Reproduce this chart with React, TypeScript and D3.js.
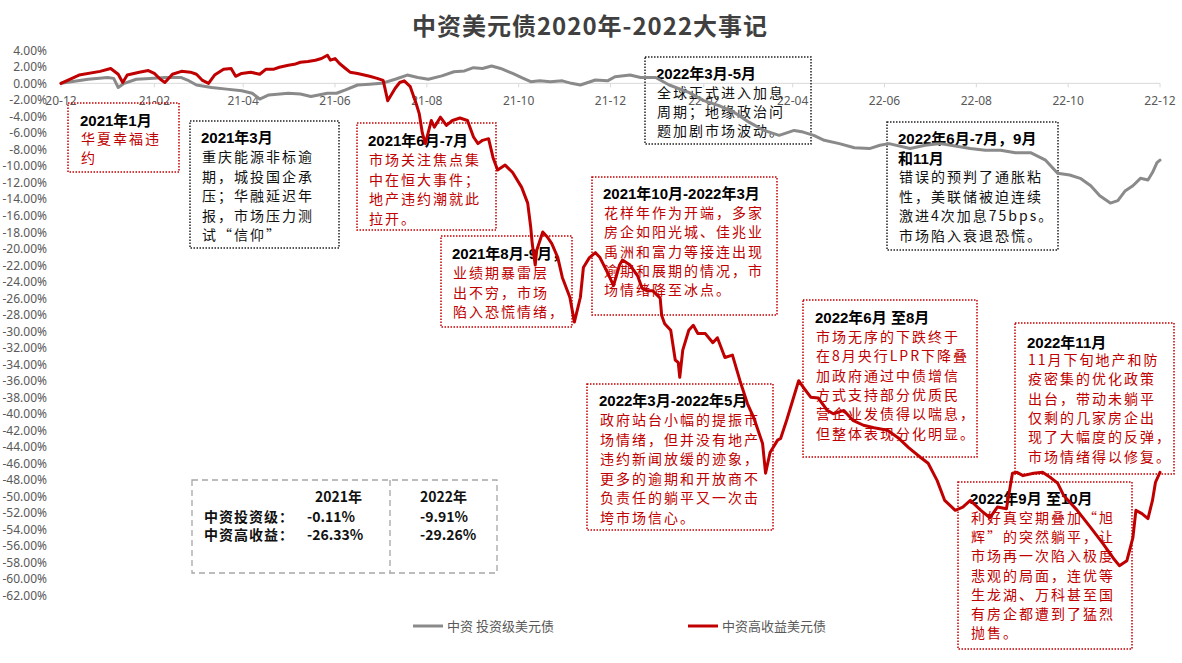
import React from 'react';
import * as d3 from 'd3';

const W = 1182;
const H = 663;

// ---- data (cumulative return, %) ----
const igDates = [
  '2020-12-01','2020-12-19','2021-01-01','2021-01-05','2021-01-08','2021-01-12','2021-01-20','2021-01-29',
  '2021-02-08','2021-02-19','2021-02-23','2021-03-01','2021-03-11','2021-03-21','2021-03-31','2021-04-07',
  '2021-04-12','2021-04-18','2021-05-01','2021-05-09','2021-05-16','2021-05-27','2021-06-02','2021-06-08',
  '2021-06-16','2021-06-24','2021-07-02','2021-07-11','2021-07-19','2021-07-26','2021-08-02','2021-08-11',
  '2021-08-19','2021-08-26','2021-09-01','2021-09-07','2021-09-13','2021-09-19','2021-09-27','2021-10-03',
  '2021-10-09','2021-10-15','2021-10-22','2021-10-30','2021-11-05','2021-11-11','2021-11-16','2021-11-21',
  '2021-11-29','2021-12-04','2021-12-14','2021-12-21','2021-12-31','2022-01-09','2022-01-22','2022-02-01',
  '2022-02-11','2022-02-21','2022-03-03','2022-03-13','2022-03-23','2022-04-02','2022-04-08','2022-04-15',
  '2022-04-22','2022-05-02','2022-05-12','2022-05-22','2022-05-29','2022-06-04','2022-06-18','2022-06-28',
  '2022-07-08','2022-07-18','2022-07-28','2022-08-07','2022-08-17','2022-08-27','2022-09-06','2022-09-16',
  '2022-09-24','2022-10-02','2022-10-09','2022-10-16','2022-10-22','2022-10-29','2022-11-03','2022-11-08',
  '2022-11-13','2022-11-18','2022-11-23','2022-11-26','2022-11-29','2022-12-01'
];
const igValues = [
  0, 0.5, 0.7, 0.6, -0.5, 0.0, 0.5, 0.6,
  0.7, 0.7, 0.4, -0.2, -0.5, -0.7, -0.9, -1.2,
  -1.9, -1.4, -1.2, -1.3, -1.6, -1.2, -1.2, -0.8,
  -0.2, -0.1, 0.0, 0.5, 1.0, 0.7, 0.5, 0.9,
  1.4, 1.5, 1.9, 1.8, 2.1, 1.8, 1.2, 0.7,
  0.2, 0.3, 0.2, 0.3, 0.0, -0.2, 0.1, 0.4,
  0.3, 0.8, 1.0, 0.7, 0.7, -0.2, -1.1, -2.1,
  -2.7, -3.5, -4.7, -5.7, -6.3, -5.7, -5.9, -6.3,
  -6.9, -7.3, -7.8, -7.9, -7.5, -7.3, -7.9, -7.5,
  -7.3, -7.6, -7.9, -8.1, -8.1, -8.4, -8.4, -9.3,
  -10.9, -11.1, -11.5, -12.4, -13.6, -14.5, -14.2, -13.0,
  -12.4, -11.5, -11.7, -10.8, -9.6, -9.3
];

const hyDates = [
  '2020-12-01','2020-12-13','2020-12-27','2021-01-03','2021-01-08','2021-01-11','2021-01-14','2021-01-22',
  '2021-01-28','2021-02-01','2021-02-05','2021-02-08','2021-02-13','2021-02-19','2021-02-25','2021-03-01',
  '2021-03-05','2021-03-09','2021-03-13','2021-03-19','2021-03-24','2021-03-27','2021-03-31','2021-04-06',
  '2021-04-12','2021-04-16','2021-04-21','2021-04-25','2021-05-01','2021-05-05','2021-05-09','2021-05-14',
  '2021-05-19','2021-05-23','2021-05-27','2021-05-29','2021-06-01','2021-06-04','2021-06-08','2021-06-11',
  '2021-06-16','2021-06-24','2021-06-29','2021-07-03','2021-07-06','2021-07-11','2021-07-14','2021-07-17',
  '2021-07-21','2021-07-25','2021-07-27','2021-07-29','2021-07-31','2021-08-02','2021-08-04','2021-08-06',
  '2021-08-10','2021-08-14','2021-08-18','2021-08-23','2021-08-28','2021-09-01','2021-09-04','2021-09-07',
  '2021-09-11','2021-09-14','2021-09-17','2021-09-22','2021-09-27','2021-10-03','2021-10-07','2021-10-09',
  '2021-10-10','2021-10-12','2021-10-13','2021-10-17','2021-10-20','2021-10-23','2021-10-27','2021-10-30',
  '2021-11-04','2021-11-07','2021-11-11','2021-11-13','2021-11-17','2021-11-21','2021-11-24','2021-11-29',
  '2021-12-03','2021-12-07','2021-12-09','2021-12-14','2021-12-19','2021-12-22','2021-12-25','2021-12-29',
  '2022-01-03','2022-01-04','2022-01-06','2022-01-10','2022-01-13','2022-01-15','2022-01-16','2022-01-18',
  '2022-01-22','2022-01-25','2022-01-28','2022-02-02','2022-02-07','2022-02-10','2022-02-15','2022-02-20',
  '2022-02-25','2022-03-02','2022-03-06','2022-03-12','2022-03-14','2022-03-17','2022-03-22','2022-03-24',
  '2022-03-28','2022-04-01','2022-04-05','2022-04-08','2022-04-13','2022-04-18','2022-04-24','2022-04-28',
  '2022-05-05','2022-05-11','2022-05-18','2022-05-25','2022-06-03','2022-06-10','2022-06-17','2022-06-25',
  '2022-06-30','2022-07-06','2022-07-11','2022-07-18','2022-07-23','2022-07-28','2022-08-04','2022-08-10',
  '2022-08-15','2022-08-21','2022-08-25','2022-08-28','2022-09-01','2022-09-08','2022-09-14','2022-09-19',
  '2022-09-24','2022-09-28','2022-10-07','2022-10-16','2022-10-24','2022-10-31','2022-11-04','2022-11-09',
  '2022-11-13','2022-11-15','2022-11-19','2022-11-23','2022-11-26','2022-11-28','2022-12-01'
];
const hyValues = [
  0, 1.0, 1.45, 1.8, 1.1, 0.1, 1.0, 1.35,
  1.55, 1.2, 0.5, 0.1, 1.1, 1.45, 1.35, 1.1,
  0.35, 0.0, 1.0, 1.7, 1.8, 0.85, 1.2, 1.35,
  1.1, 1.7, 1.7, 1.95, 2.2, 2.3, 2.55, 2.65,
  2.8, 3.0, 3.4, 2.8, 3.0, 2.4, 1.8, 1.35,
  1.2, 0.85, 0.6, 0.35, -2.1, -0.6, 0.1, 0.3,
  -0.4, -2.5, -3.7, -6.0, -7.3, -5.9, -4.5, -5.3,
  -4.1, -5.1, -4.5, -4.2, -4.5, -6.5, -7.3, -6.9,
  -6.7, -9.0, -10.5, -9.9, -10.8, -12.6, -14.5, -17.4,
  -19.4, -22.0, -20.2, -18.0, -18.6, -19.4, -21.1, -23.5,
  -25.9, -28.9, -25.9, -22.3, -21.1, -20.5, -21.1, -22.9,
  -24.5, -22.0, -21.4, -22.0, -23.3, -24.8, -25.1, -25.1,
  -26.0, -28.1, -29.1, -29.9, -33.5, -33.8, -35.6, -32.3,
  -29.9, -29.3, -30.3, -30.3, -31.4, -30.8, -33.2, -32.9,
  -36.0, -38.8, -40.4, -43.6, -47.2, -44.7, -43.2, -43.0,
  -40.8, -38.4, -36.0, -36.8, -38.0, -38.1, -39.6, -40.0,
  -39.6, -40.8, -41.4, -41.7, -42.0, -42.9, -44.1, -45.3,
  -46.0, -48.1, -50.5, -51.7, -51.3, -50.5, -51.7, -52.6,
  -51.3, -51.5, -47.2, -47.1, -47.5, -47.2, -47.1, -47.7,
  -48.4, -49.9, -51.7, -53.8, -55.7, -57.5, -58.4, -57.8,
  -55.0, -51.7, -52.1, -52.7, -50.5, -48.3, -47.1
];

const xTickLabels = ['20-12','21-02','21-04','21-06','21-08','21-10','21-12','22-02','22-04','22-06','22-08','22-10','22-12'];
const yTickValues = [4,2,0,-2,-4,-6,-8,-10,-12,-14,-16,-18,-20,-22,-24,-26,-28,-30,-32,-34,-36,-38,-40,-42,-44,-46,-48,-50,-52,-54,-56,-58,-60,-62];

const seriesNames = ['中资 投资级美元债', '中资高收益美元债'];
const tableYears = ['2021年', '2022年'];
const tableRows = ['中资投资级：', '中资高收益：'];
const tableIG = ['-0.11%', '-9.91%'];
const tableHY = ['-26.33%', '-29.26%'];

const RED = '#C00000';
const GREY = '#8a8a8a';
const AXIS_TXT = '#595959';

type Note = {
  x: number; y: number; w: number; h: number; border: 'red' | 'black';
  tx: number; ty: number; title: string[]; by: number; lh: number; body: string[]; bodyColor: string;
};

const notes: Note[] = [
  { x: 68, y: 103, w: 111, h: 69, border: 'red', tx: 80, ty: 126, title: ['2021年1月'], by: 144, lh: 19, body: ['华夏幸福违', '约'], bodyColor: RED },
  { x: 190, y: 121, w: 149, h: 127, border: 'black', tx: 201, ty: 143, title: ['2021年3月'], by: 162, lh: 19.5, body: ['重庆能源非标逾', '期，城投国企承', '压；华融延迟年', '报，市场压力测', '试“信仰”'], bodyColor: '#111' },
  { x: 357, y: 123, w: 139, h: 107, border: 'red', tx: 368, ty: 146, title: ['2021年6月-7月'], by: 165, lh: 19.5, body: ['市场关注焦点集', '中在恒大事件；', '地产违约潮就此', '拉开。'], bodyColor: RED },
  { x: 441, y: 236, w: 131, h: 91, border: 'red', tx: 452, ty: 259, title: ['2021年8月-9月，'], by: 278, lh: 19.5, body: ['业绩期暴雷层', '出不穷，市场', '陷入恐慌情绪，'], bodyColor: RED },
  { x: 592, y: 177, w: 185, h: 138, border: 'red', tx: 603, ty: 199, title: ['2021年10月-2022年3月'], by: 218, lh: 19.3, body: ['花样年作为开端，多家', '房企如阳光城、佳兆业', '禹洲和富力等接连出现', '逾期和展期的情况，市', '场情绪降至冰点。'], bodyColor: RED },
  { x: 645, y: 57, w: 166, h: 87, border: 'black', tx: 656, ty: 79, title: ['2022年3月-5月'], by: 98, lh: 19, body: ['全球正式进入加息', '周期；地缘政治问', '题加剧市场波动。'], bodyColor: '#111' },
  { x: 887, y: 122, w: 171, h: 128, border: 'black', tx: 898, ty: 144, title: ['2022年6月-7月，9月', '和11月'], by: 182, lh: 19.5, body: ['错误的预判了通胀粘', '性，美联储被迫连续', '激进4次加息75bps。', '市场陷入衰退恐慌。'], bodyColor: '#111' },
  { x: 587, y: 384, w: 186, h: 146, border: 'red', tx: 599, ty: 406, title: ['2022年3月-2022年5月'], by: 425, lh: 19.6, body: ['政府站台小幅的提振市', '场情绪，但并没有地产', '违约新闻放缓的迹象，', '更多的逾期和开放商不', '负责任的躺平又一次击', '垮市场信心。'], bodyColor: RED },
  { x: 803, y: 300, w: 174, h: 157, border: 'red', tx: 815, ty: 323, title: ['2022年6月 至8月'], by: 342, lh: 19.3, body: ['市场无序的下跌终于', '在8月央行LPR下降叠', '加政府通过中债增信', '方式支持部分优质民', '营企业发债得以喘息，', '但整体表现分化明显。'], bodyColor: RED },
  { x: 1015, y: 323, w: 159, h: 151, border: 'red', tx: 1027, ty: 348, title: ['2022年11月'], by: 365, lh: 19.3, body: ['11月下旬地产和防', '疫密集的优化政策', '出台，带动未躺平', '仅剩的几家房企出', '现了大幅度的反弹，', '市场情绪得以修复。'], bodyColor: RED },
  { x: 958, y: 482, w: 174, h: 167, border: 'red', tx: 970, ty: 504, title: ['2022年9月 至10月'], by: 523, lh: 19.2, body: ['利好真空期叠加“旭', '辉”的突然躺平，让', '市场再一次陷入极度', '悲观的局面，连优等', '生龙湖、万科甚至国', '有房企都遭到了猛烈', '抛售。'], bodyColor: RED },
];

const parse = d3.timeParse('%Y-%m-%d');
const tickDate = (s: string) => new Date(2000 + +s.slice(0, 2), +s.slice(3) - 1, 1);

export default function App() {
  const x = d3.scaleTime().domain([tickDate('20-12'), tickDate('22-12')]).range([61, 1160]);
  const y = d3.scaleLinear().domain([4, -62]).range([50.3, 595.4]);

  const ig = igDates.map((d, i) => ({ d: parse(d) as Date, v: igValues[i] }));
  const hy = hyDates.map((d, i) => ({ d: parse(d) as Date, v: hyValues[i] }));
  const line = d3.line<{ d: Date; v: number }>().x(p => x(p.d)).y(p => y(p.v));

  const sans = '"Noto Sans", "Noto Sans CJK SC", sans-serif';
  const titleFont = '"Liberation Sans", "Noto Sans CJK SC", sans-serif';
  const bodyFont = '"Noto Sans CJK SC", sans-serif';

  return (
    <svg width={W} height={H} style={{ position: 'absolute', left: 0, top: 0, background: '#fff' }}>
      <rect x={0} y={0} width={W} height={H} fill="#fff" />
      <text x={590} y={35} textAnchor="middle" fontFamily={bodyFont} fontWeight={700} fontSize={24} fill="#404040" style={{ letterSpacing: '1px' }}>
        中资美元债2020年-2022大事记
      </text>

      {/* y axis labels */}
      {yTickValues.map(v => (
        <text key={v} x={47} y={y(v) + 4.5} textAnchor="end" fontFamily={sans} fontSize={12} fill={AXIS_TXT}>
          {v.toFixed(2) + '%'}
        </text>
      ))}

      {/* x axis */}
      <line x1={x.range()[0]} x2={x.range()[1]} y1={y(0)} y2={y(0)} stroke="#d9d9d9" strokeWidth={1} />
      {xTickLabels.map(t => (
        <g key={t}>
          <line x1={x(tickDate(t))} x2={x(tickDate(t))} y1={y(0)} y2={y(0) + 4} stroke="#d9d9d9" />
          <text x={x(tickDate(t))} y={y(0) + 22} textAnchor="middle" fontFamily={sans} fontSize={12} fill={AXIS_TXT}>{t}</text>
        </g>
      ))}

      {/* annotation boxes */}
      {notes.map((n, i) => (
        <g key={i}>
          <rect x={n.x} y={n.y} width={n.w} height={n.h} fill="none"
            stroke={n.border === 'red' ? RED : '#222'} strokeWidth={1.5}
            strokeDasharray="1.5 1.5" />
          {n.title.map((t, j) => (
            <text key={'t' + j} x={n.tx} y={n.ty + j * 20} fontFamily={titleFont} fontWeight={700} fontSize={15} fill="#000">{t}</text>
          ))}
          {n.body.map((t, j) => (
            <text key={'b' + j} x={n.tx + 1} y={n.by + j * n.lh} fontFamily={bodyFont} fontSize={14}
              fill={n.bodyColor} style={{ letterSpacing: '2px' }}>{t}</text>
          ))}
        </g>
      ))}

      {/* table */}
      <g>
        <rect x={192} y={480} width={305} height={93} fill="none" stroke="#a6a6a6" strokeWidth={1.3} strokeDasharray="6 4" />
        <line x1={390} x2={390} y1={480} y2={573} stroke="#a6a6a6" strokeWidth={1.3} strokeDasharray="6 4" />
        <text x={315} y={502} fontFamily={bodyFont} fontWeight={700} fontSize={14} fill="#111">{tableYears[0]}</text>
        <text x={420} y={502} fontFamily={bodyFont} fontWeight={700} fontSize={14} fill="#111">{tableYears[1]}</text>
        {tableRows.map((r, i) => (
          <g key={r}>
            <text x={204} y={522 + i * 18} fontFamily={bodyFont} fontWeight={700} fontSize={14} fill="#111" style={{ letterSpacing: '1px' }}>{r}</text>
            <text x={307} y={522 + i * 18} fontFamily={bodyFont} fontWeight={700} fontSize={14} fill="#111">{i === 0 ? tableIG[0] : tableHY[0]}</text>
            <text x={420} y={522 + i * 18} fontFamily={bodyFont} fontWeight={700} fontSize={14} fill="#111">{i === 0 ? tableIG[1] : tableHY[1]}</text>
          </g>
        ))}
      </g>

      {/* series */}
      <path d={line(ig) || ''} fill="none" stroke={GREY} strokeWidth={3} strokeLinejoin="round" strokeLinecap="round" />
      <path d={line(hy) || ''} fill="none" stroke={RED} strokeWidth={3} strokeLinejoin="round" strokeLinecap="round" />

      {/* legend */}
      <line x1={413} x2={443} y1={626} y2={626} stroke={GREY} strokeWidth={3} />
      <text x={447} y={631} fontFamily={bodyFont} fontSize={13} fill={AXIS_TXT}>{seriesNames[0]}</text>
      <line x1={688} x2={718} y1={626} y2={626} stroke={RED} strokeWidth={3} />
      <text x={722} y={631} fontFamily={bodyFont} fontSize={13} fill={AXIS_TXT}>{seriesNames[1]}</text>
    </svg>
  );
}
